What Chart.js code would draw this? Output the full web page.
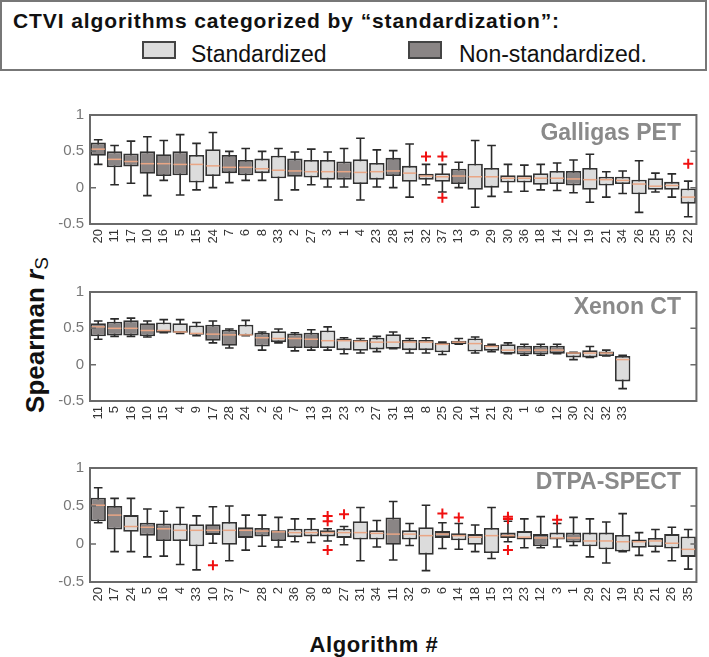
<!DOCTYPE html>
<html>
<head>
<meta charset="utf-8">
<script src="https://cdn.jsdelivr.net/npm/chart.js@4.4.1/dist/chart.umd.min.js"></script>
<style>
  body { margin: 0; background: #fff; font-family: "Liberation Sans", Arial, sans-serif; }
  #wrap { position: relative; width: 709px; height: 657px; overflow: hidden; }
  #legend { position: absolute; left: 0; top: 0; width: 703px; height: 67px; border: 2px solid #777; }
  #legend .title { position: absolute; left: 11px; top: 7px; font-weight: bold; font-size: 21px; letter-spacing: 0.9px; color: #111; white-space: nowrap; }
  #legend .sw { position: absolute; top: 39px; width: 30px; height: 14px; border: 2px solid #444; }
  #legend .lab { position: absolute; top: 39px; font-size: 23px; color: #111; white-space: nowrap; }
  canvas { position: absolute; left: 0; }
  .ptitle { position: absolute; right: 28px; font-weight: bold; font-size: 23px; color: #8a8a8a; white-space: nowrap; }
  #ytitle { position: absolute; left: -75px; top: 320px; width: 220px; height: 30px; line-height: 30px; text-align: center; font-weight: bold; font-size: 26px; color: #111; transform: rotate(-90deg); white-space: nowrap; }
  #ytitle sub { font-size: 19px; font-weight: normal; vertical-align: -4px; }
  #xtitle { position: absolute; left: 274px; top: 632px; width: 200px; text-align: center; font-weight: bold; font-size: 22px; letter-spacing: 0.6px; color: #111; }
</style>
</head>
<body>
<div id="wrap">
  <div id="legend">
    <div class="title">CTVI algorithms categorized by “standardization”:</div>
    <div class="sw" style="left:140px;background:#dcdcdc"></div>
    <div class="lab" style="left:189px">Standardized</div>
    <div class="sw" style="left:406px;background:#8a8585"></div>
    <div class="lab" style="left:457px">Non-standardized.</div>
  </div>
  <div id="ytitle">Spearman <i>r</i><sub>S</sub></div>
  <div id="xtitle">Algorithm #</div>
  <canvas id="c1" width="709" height="170" style="top:100px"></canvas>
  <canvas id="c2" width="709" height="170" style="top:277px"></canvas>
  <canvas id="c3" width="709" height="175" style="top:453px"></canvas>
  <div class="ptitle" style="top:119px">Galligas PET</div>
  <div class="ptitle" style="top:293px">Xenon CT</div>
  <div class="ptitle" style="top:468px">DTPA-SPECT</div>
</div>
<script>
// ---- Galligas PET ----
const petNames = ['20','11','17','10','16','5','15','24','7','6','8','33','2','27','3','1','4','23','28','31','32','37','13','9','29','30','36','18','14','12','19','21','34','26','25','35','22'];
const petDark = ['20','11','17','10','16','5','7','6','2','1','28','13','12'];
const petQ1 = [0.44,0.28,0.29,0.19,0.16,0.17,0.07,0.16,0.20,0.17,0.20,0.13,0.15,0.14,0.11,0.11,0.05,0.11,0.16,0.08,0.11,0.08,0.05,-0.03,0.00,0.07,0.07,0.04,0.05,0.03,-0.03,0.03,0.05,-0.09,-0.03,-0.03,-0.22];
const petQ3 = [0.62,0.50,0.47,0.50,0.46,0.50,0.45,0.53,0.45,0.38,0.40,0.44,0.40,0.38,0.38,0.36,0.39,0.34,0.41,0.30,0.19,0.20,0.26,0.33,0.27,0.17,0.17,0.20,0.23,0.23,0.27,0.15,0.15,0.11,0.13,0.08,-0.01];
const petMed = [0.53,0.39,0.36,0.33,0.33,0.32,0.32,0.30,0.28,0.28,0.26,0.24,0.23,0.22,0.22,0.22,0.21,0.22,0.23,0.20,0.16,0.15,0.16,0.15,0.15,0.13,0.13,0.13,0.13,0.12,0.11,0.11,0.10,0.05,0.02,0.03,-0.13];
const petLow = [0.32,0.04,0.06,-0.11,0.10,-0.10,-0.03,0.00,0.07,0.10,0.10,-0.17,-0.03,0.04,0.01,0.01,-0.17,0.01,0.00,-0.13,0.04,-0.06,0.00,-0.27,-0.12,-0.06,-0.05,-0.03,-0.04,-0.07,-0.20,-0.13,-0.08,-0.34,-0.06,-0.13,-0.40];
const petHigh = [0.66,0.58,0.64,0.70,0.65,0.73,0.61,0.76,0.50,0.54,0.50,0.54,0.49,0.53,0.49,0.54,0.68,0.52,0.51,0.60,0.32,0.32,0.35,0.65,0.58,0.32,0.31,0.32,0.34,0.38,0.46,0.22,0.23,0.37,0.20,0.19,0.09];
const petOutCat = ['32','37','37','22'];
const petOutVal = [0.43,0.43,-0.14,0.33];

// ---- Xenon CT ----
const xeNames = ['11','5','16','10','15','4','9','17','28','24','2','26','7','13','19','23','3','27','31','18','8','25','20','14','21','29','1','6','12','30','22','32','33','','','',''];
const xeDark = ['11','5','16','10','17','28','2','7','13','1','6','12'];
const xeQ1 = [0.39,0.40,0.40,0.39,0.44,0.44,0.41,0.33,0.26,0.40,0.25,0.31,0.23,0.23,0.23,0.20,0.19,0.21,0.22,0.20,0.20,0.17,0.28,0.18,0.19,0.15,0.14,0.14,0.15,0.10,0.10,0.12,-0.23];
const xeQ3 = [0.57,0.59,0.61,0.57,0.58,0.57,0.54,0.55,0.48,0.55,0.44,0.46,0.43,0.44,0.47,0.36,0.34,0.37,0.42,0.34,0.34,0.30,0.33,0.36,0.27,0.28,0.26,0.26,0.26,0.17,0.20,0.18,0.12];
const xeMed = [0.52,0.50,0.50,0.47,0.47,0.45,0.43,0.42,0.41,0.41,0.37,0.36,0.36,0.35,0.33,0.33,0.32,0.31,0.31,0.31,0.31,0.28,0.31,0.29,0.25,0.20,0.20,0.20,0.20,0.16,0.16,0.16,0.07];
const xeLow = [0.35,0.39,0.39,0.38,0.44,0.43,0.40,0.30,0.23,0.40,0.20,0.30,0.19,0.20,0.20,0.15,0.16,0.18,0.22,0.16,0.16,0.14,0.28,0.16,0.18,0.15,0.13,0.13,0.15,0.07,0.10,0.12,-0.33];
const xeHigh = [0.60,0.63,0.64,0.60,0.62,0.62,0.58,0.60,0.49,0.61,0.45,0.49,0.44,0.48,0.52,0.37,0.36,0.39,0.45,0.36,0.37,0.31,0.36,0.38,0.28,0.30,0.28,0.28,0.28,0.17,0.25,0.20,0.13];
const xeOutCat = [];
const xeOutVal = [];

// ---- DTPA-SPECT ----
const spNames = ['20','17','24','5','16','4','33','10','37','7','28','2','36','30','8','27','31','34','11','32','9','6','14','18','15','13','23','12','3','1','29','22','19','25','21','26','35'];
const spDark = ['20','17','5','16','10','7','28','2','11','6','13','12','1'];
const spQ1 = [0.30,0.19,0.16,0.11,0.04,0.04,-0.03,0.12,-0.01,0.08,0.10,0.04,0.09,0.10,0.10,0.08,0.06,0.06,-0.01,0.06,-0.14,0.08,0.05,-0.01,-0.12,0.08,0.06,-0.03,0.06,0.02,-0.03,-0.07,-0.10,-0.05,-0.04,-0.06,-0.17];
const spQ3 = [0.61,0.50,0.38,0.28,0.27,0.27,0.26,0.26,0.29,0.22,0.21,0.18,0.20,0.20,0.18,0.20,0.30,0.18,0.35,0.18,0.22,0.17,0.14,0.13,0.21,0.15,0.17,0.13,0.15,0.15,0.15,0.15,0.12,0.06,0.08,0.13,0.10];
const spMed = [0.51,0.38,0.23,0.22,0.20,0.18,0.18,0.18,0.18,0.18,0.17,0.16,0.15,0.15,0.15,0.15,0.15,0.14,0.13,0.13,0.11,0.13,0.11,0.09,0.11,0.11,0.09,0.08,0.08,0.08,0.04,0.04,0.03,0.03,0.04,0.01,-0.07];
const spLow = [0.28,-0.10,-0.10,-0.17,-0.16,-0.27,-0.34,0.01,-0.22,-0.08,-0.03,-0.04,0.03,0.02,0.04,-0.01,-0.22,-0.04,-0.21,-0.02,-0.35,-0.06,-0.07,-0.10,-0.19,0.03,-0.05,-0.05,-0.04,-0.02,-0.17,-0.25,-0.10,-0.15,-0.10,-0.22,-0.33];
const spHigh = [0.74,0.60,0.60,0.46,0.43,0.48,0.37,0.49,0.50,0.38,0.38,0.35,0.33,0.33,0.20,0.23,0.48,0.31,0.56,0.27,0.51,0.28,0.27,0.25,0.48,0.30,0.33,0.36,0.27,0.35,0.33,0.29,0.40,0.15,0.19,0.22,0.19];
const spOutCat = ['10','8','8','8','27','6','14','13','13','13','3'];
const spOutVal = [-0.28,0.37,0.30,-0.08,0.39,0.40,0.35,0.36,0.33,-0.08,0.32];

const yTicks = [-0.5, 0, 0.5, 1];

const LIGHT = '#dcdcdc', DARK = '#8a8585';
const FONT = '"Liberation Sans", Arial, sans-serif';

// whiskers, medians and the matlab-style frame
const boxPlugin = {
  id: 'boxextras',
  beforeDatasetsDraw(chart) {
    const o = chart.options.plugins.boxextras;
    const x = chart.scales.x, y = chart.scales.y;
    const bars = chart.getDatasetMeta(0).data;
    const ctx = chart.ctx;
    ctx.save();
    ctx.strokeStyle = '#2a2a2a';
    ctx.lineWidth = 1.6;
    o.low.forEach((lo, i) => {
      const px = x.getPixelForValue(i);
      const cw = bars[i].width * 0.28;
      ctx.beginPath();
      ctx.moveTo(px, y.getPixelForValue(lo));
      ctx.lineTo(px, y.getPixelForValue(o.high[i]));
      ctx.moveTo(px - cw, y.getPixelForValue(lo));
      ctx.lineTo(px + cw, y.getPixelForValue(lo));
      ctx.moveTo(px - cw, y.getPixelForValue(o.high[i]));
      ctx.lineTo(px + cw, y.getPixelForValue(o.high[i]));
      ctx.stroke();
    });
    ctx.restore();
  },
  afterDatasetsDraw(chart) {
    const o = chart.options.plugins.boxextras;
    const y = chart.scales.y;
    const bars = chart.getDatasetMeta(0).data;
    const ctx = chart.ctx;
    ctx.save();
    ctx.strokeStyle = '#e9a685';
    ctx.lineWidth = 1.5;
    o.med.forEach((m, i) => {
      const b = bars[i];
      const py = y.getPixelForValue(m);
      ctx.beginPath();
      ctx.moveTo(b.x - b.width / 2 + 1, py);
      ctx.lineTo(b.x + b.width / 2 - 1, py);
      ctx.stroke();
    });
    const a = chart.chartArea;
    ctx.strokeStyle = '#6a6a6a';
    ctx.lineWidth = 2;
    ctx.strokeRect(a.left, a.top, a.right - a.left, a.bottom - a.top);
    ctx.lineWidth = 1.5;
    yTicks.forEach(v => {
      const py = y.getPixelForValue(v);
      ctx.beginPath();
      ctx.moveTo(a.left, py); ctx.lineTo(a.left + 6, py);
      ctx.moveTo(a.right, py); ctx.lineTo(a.right - 6, py);
      ctx.stroke();
    });
    ctx.restore();
  }
};

function makePanel(id, names, dark, q1, q3, med, low, high, outCat, outVal) {
  new Chart(document.getElementById(id).getContext('2d'), {
    type: 'bar',
    data: {
      labels: names,
      datasets: [{
        data: q1.map((v, i) => [v, q3[i]]),
        backgroundColor: q1.map((v, i) => dark.includes(names[i]) ? DARK : LIGHT),
        borderColor: '#333',
        borderWidth: 1.8,
        borderSkipped: false,
        barPercentage: 0.94,
        categoryPercentage: 1
      }, {
        type: 'line',
        data: outCat.map((c, i) => ({ x: c, y: outVal[i] })),
        showLine: false,
        pointStyle: 'cross',
        pointRadius: 5,
        pointBorderWidth: 2,
        borderColor: '#f01010',
        backgroundColor: '#f01010'
      }]
    },
    options: {
      responsive: false,
      animation: false,
      layout: { padding: { top: 9, right: 12, left: 0, bottom: 0 } },
      plugins: {
        legend: { display: false },
        tooltip: { enabled: false },
        boxextras: { med: med, low: low, high: high }
      },
      scales: {
        x: {
          grid: { display: false, drawTicks: false },
          border: { display: false },
          ticks: { autoSkip: false, minRotation: 90, maxRotation: 90, padding: 5, color: '#333', font: { family: FONT, size: 13 } },
          afterFit: s => { s.height = 46; }
        },
        y: {
          min: -0.5, max: 1,
          grid: { display: false, drawTicks: false },
          border: { display: false },
          ticks: { stepSize: 0.5, padding: 6, color: '#777', font: { family: FONT, size: 15 }, callback: v => String(v) },
          afterFit: s => { s.width = 90; }
        }
      }
    },
    plugins: [boxPlugin]
  });
}

makePanel('c1', petNames, petDark, petQ1, petQ3, petMed, petLow, petHigh, petOutCat, petOutVal);
makePanel('c2', xeNames, xeDark, xeQ1, xeQ3, xeMed, xeLow, xeHigh, xeOutCat, xeOutVal);
makePanel('c3', spNames, spDark, spQ1, spQ3, spMed, spLow, spHigh, spOutCat, spOutVal);
</script>
</body>
</html>
